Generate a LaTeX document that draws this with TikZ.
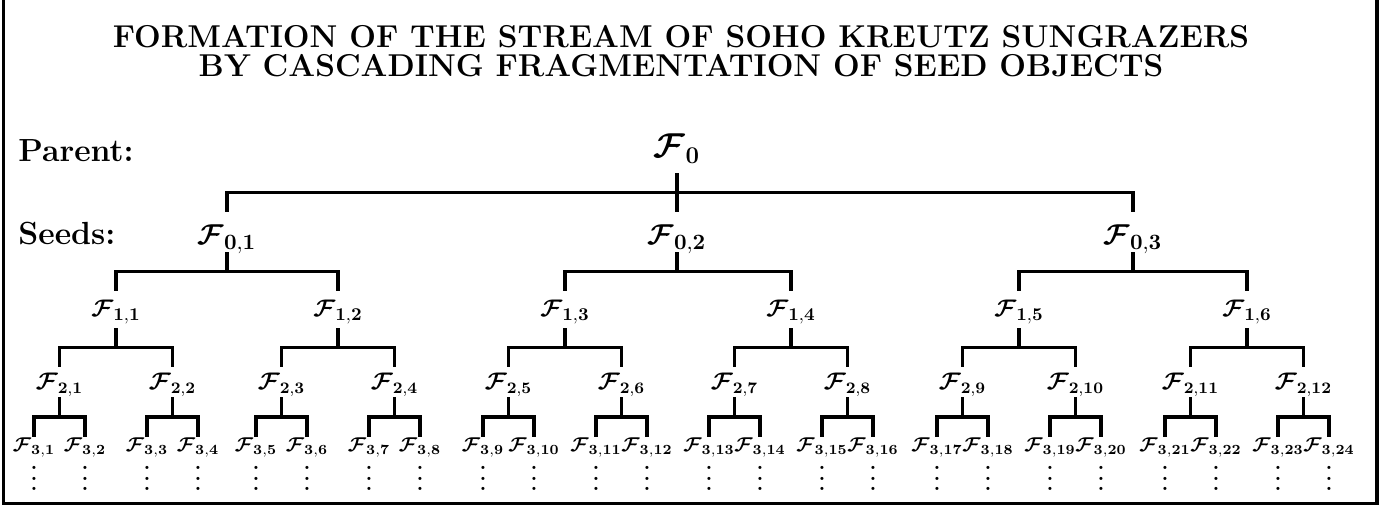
\documentclass[tikz,border=0pt]{standalone}
\usepackage{amsmath,bm}
\usetikzlibrary{calc}
\newcommand{\Fr}[1]{$\bm{\mathcal{F}}_{\mathbf{#1}}$}
\newcommand{\vdt}{\vbox{\baselineskip5.25pt\lineskiplimit0pt\lineskip0pt\hbox{.}\hbox{.}\hbox{.}}}
\newcommand{\fork}[3]{%
  \coordinate (m#1) at ($(#1.south)!.5!(#1.south |- #2.north)$);
  \draw[tl] (#1.south) -- (m#1);
  \draw[tl] (#2.north) |- (m#1) -| (#3.north);}
\tikzset{
  tl/.style={line width=1.7pt},
  busthin/.style={line width=1.2pt},
  frame/.style={line width=1.7pt},
  ttl/.style={anchor=base, inner sep=0pt, font=\bfseries\fontsize{15.8}{15.8}\selectfont},
  lab/.style={anchor=base west, inner sep=0pt, font=\bfseries\fontsize{16}{16}\selectfont},
  lvz/.style={anchor=base, inner sep=0pt, text depth=7.5pt, font=\fontsize{17}{17}\selectfont},
  lvs/.style={anchor=base, inner sep=0pt, text height=16.5pt, text depth=3.5pt, font=\fontsize{15}{15}\selectfont},
  lva/.style={anchor=base, inner sep=0pt, text height=13pt, text depth=5.5pt, font=\fontsize{13}{13}\selectfont},
  lvb/.style={anchor=base, inner sep=0pt, text height=11.5pt, text depth=3.5pt, font=\fontsize{11.8}{11.8}\selectfont},
  lvc/.style={anchor=base, inner sep=0pt, text height=7.5pt, text depth=2pt, font=\fontsize{10.4}{10.4}\selectfont},
  dotn/.style={anchor=north, inner sep=0pt, font=\bfseries\fontsize{11}{11}\selectfont},
}
\begin{document}
\begin{tikzpicture}[x=0.5pt,y=-0.5pt]
\useasboundingbox (0,0) rectangle (1382,507);
\draw[frame] (3.5,-10) rectangle (1377,503.5);
\node[ttl] (t1) at (681,48) {FORMATION OF THE STREAM OF SOHO KREUTZ SUNGRAZERS};
\node[ttl] (t2) at (681,77) {BY CASCADING FRAGMENTATION OF SEED OBJECTS};
\node[lab] (parent) at (18,162) {Parent:};
\node[lab] (seeds) at (18,245) {Seeds:};
\node[lvz] (F0) at (677,158) {\Fr{0}};
\node[lvs] (s1) at (227,245) {\Fr{0,1}};
\node[lvs] (s2) at (677,245) {\Fr{0,2}};
\node[lvs] (s3) at (1133,245) {\Fr{0,3}};
\coordinate (m0) at ($(F0.south)!.5!(F0.south |- s1.north)$);
\draw[busthin] (s1.north |- m0) -- (s3.north |- m0);
\draw[tl] (s1.north) -- ($(s1.north |- m0)+(0,-1.2)$);
\draw[tl] (s3.north) -- ($(s3.north |- m0)+(0,-1.2)$);
\draw[tl] (F0.south) -- (s2.north);
\foreach \x [count=\i] in {116,338,565,791,1019,1247} {
  \pgfmathtruncatemacro\j{2*\i-1}
  \pgfmathtruncatemacro\k{2*\i}
  \pgfmathtruncatemacro\p{4*\i-3}
  \pgfmathtruncatemacro\q{4*\i-2}
  \pgfmathtruncatemacro\r{4*\i-1}
  \pgfmathtruncatemacro\s{4*\i}
  \node[lva] (a\i) at (\x,317) {\Fr{1,\i}};
  \node[lvb] (b\j) at (\x-56.5,390) {\Fr{2,\j}};
  \node[lvb] (b\k) at (\x+56.5,390) {\Fr{2,\k}};
  \node[lvc] (c\p) at (\x-82,452) {\Fr{3,\p}};
  \node[lvc] (c\q) at (\x-31,452) {\Fr{3,\q}};
  \node[lvc] (c\r) at (\x+31,452) {\Fr{3,\r}};
  \node[lvc] (c\s) at (\x+82,452) {\Fr{3,\s}};
  \foreach \n in {\p,\q,\r,\s} {
    \node[dotn] (d\n) at (c\n.south |- 0,466) {\vdt};
  }
  \fork{a\i}{b\j}{b\k}
  \fork{b\j}{c\p}{c\q}
  \fork{b\k}{c\r}{c\s}
}
\fork{s1}{a1}{a2}
\fork{s2}{a3}{a4}
\fork{s3}{a5}{a6}
\end{tikzpicture}
\end{document}
